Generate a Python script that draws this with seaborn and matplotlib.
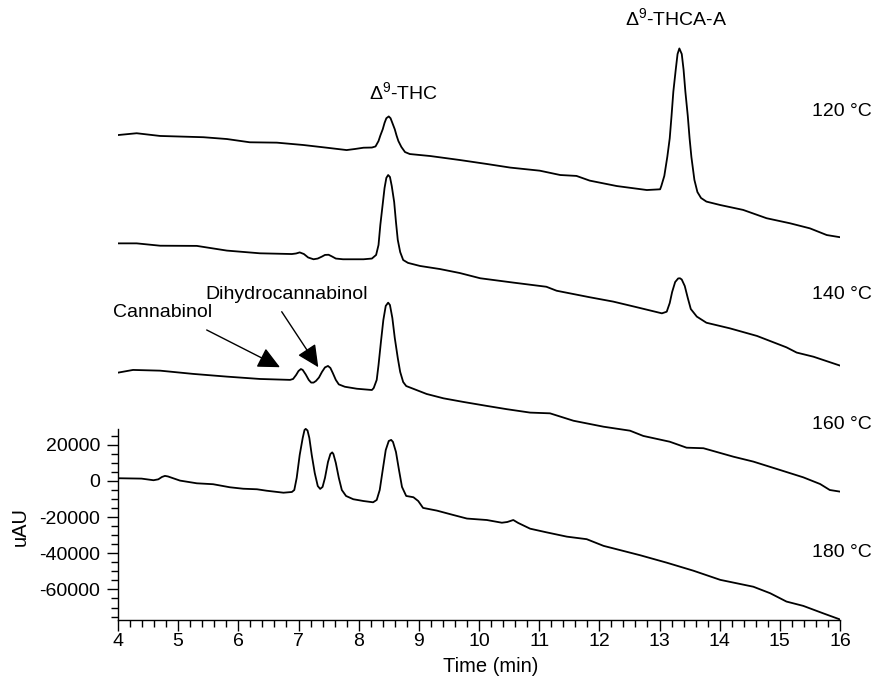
import numpy as np
import pandas as pd
import matplotlib
matplotlib.use("Agg")
import matplotlib.pyplot as plt
import seaborn as sns
from matplotlib.ticker import FixedLocator, StrMethodFormatter

# ---------------- data (uAU vs minutes) ----------------
t_180 = [4.00, 4.39, 4.59, 4.67, 4.73, 4.78, 4.83, 4.89, 5.03, 5.31, 5.58, 5.86, 6.08, 6.31, 6.47, 6.75,
         6.89, 6.93, 6.97, 7.02, 7.07, 7.10, 7.12, 7.15, 7.18, 7.22, 7.27, 7.32, 7.36, 7.40, 7.44, 7.49,
         7.53, 7.56, 7.58, 7.62, 7.67, 7.72, 7.79, 7.91, 8.08, 8.24, 8.30, 8.35, 8.40, 8.45, 8.50, 8.54,
         8.57, 8.62, 8.67, 8.72, 8.79, 8.91, 8.99, 9.07, 9.30, 9.57, 9.80, 10.13, 10.38, 10.47, 10.57,
         10.65, 10.85, 11.12, 11.46, 11.79, 12.07, 12.34, 12.68, 13.12, 13.56, 14.01, 14.56, 14.84,
         15.11, 15.39, 15.72, 16.00]
v_180 = [1500, 1300, 400, 900, 2200, 2800, 2500, 1800, 200, -1300, -1800, -3500, -4300, -4600, -5400,
         -6500, -6100, -5000, 1700, 14400, 23800, 28200, 28800, 27900, 23800, 14400, 4400, -2800, -4400,
         -3300, 1700, 10500, 14900, 15800, 14900, 10000, 1700, -5000, -8300, -10100, -11100, -11800,
         -10500, -5000, 6100, 17100, 22100, 22700, 21600, 16000, 6100, -3300, -8300, -9000, -11100,
         -14900, -16400, -18800, -20800, -21600, -23100, -22700, -21600, -23200, -26400, -28400, -30800,
         -32200, -35900, -38200, -41100, -45200, -49600, -54700, -58500, -62100, -66700, -69100, -73200,
         -76600]

t_160 = [4.00, 4.25, 4.70, 5.25, 5.81, 6.36, 6.86, 6.91, 6.96, 7.00, 7.04, 7.07, 7.12, 7.17, 7.21, 7.25,
         7.29, 7.34, 7.39, 7.44, 7.49, 7.53, 7.57, 7.62, 7.67, 7.77, 7.97, 8.22, 8.25, 8.30, 8.33, 8.37,
         8.41, 8.45, 8.49, 8.52, 8.56, 8.60, 8.65, 8.69, 8.74, 8.79, 8.96, 9.13, 9.41, 9.74, 10.13, 10.46,
         10.85, 11.18, 11.57, 12.07, 12.51, 12.73, 13.17, 13.45, 13.73, 14.23, 14.56, 15.00, 15.39,
         15.67, 15.83, 16.00]
v_160 = [-100, 1400, 1000, -800, -2300, -3600, -4100, -3600, -1400, 800, 1900, 1400, -1100, -4100, -5600,
         -5600, -4700, -2800, 300, 2800, 3600, 2500, -300, -4100, -6600, -7900, -9000, -9700, -8600,
         -4100, 4100, 16900, 29000, 36800, 38600, 37300, 30100, 19100, 8000, 300, -5300, -7500, -9700,
         -11900, -14300, -16300, -18500, -20300, -22200, -22600, -26700, -30000, -32200, -35100, -38300,
         -41600, -41900, -46600, -49300, -53900, -58000, -61700, -65000, -65900]

t_140 = [4.00, 4.31, 4.70, 5.31, 5.81, 6.36, 6.89, 6.96, 7.02, 7.09, 7.16, 7.25, 7.32, 7.39, 7.44, 7.50,
         7.56, 7.62, 7.74, 8.08, 8.22, 8.29, 8.33, 8.36, 8.40, 8.43, 8.46, 8.49, 8.52, 8.55, 8.59, 8.62,
         8.65, 8.69, 8.74, 8.82, 9.02, 9.35, 9.68, 10.02, 10.57, 11.12, 11.29, 11.84, 12.23, 12.62,
         13.04, 13.12, 13.17, 13.21, 13.26, 13.31, 13.34, 13.37, 13.42, 13.47, 13.52, 13.62, 13.78,
         14.17, 14.62, 15.11, 15.28, 15.56, 16.00]
v_140 = [1400, 1400, 100, 0, -2600, -4100, -4500, -4200, -3600, -4500, -6400, -7400, -7000, -5900, -5000,
         -4900, -5900, -7000, -7400, -7400, -7000, -5000, 500, 11600, 23200, 32000, 37600, 39200, 38100,
         33100, 24300, 13200, 3300, -3400, -7800, -9400, -11100, -12800, -15000, -17900, -20300, -22600,
         -24800, -28400, -30800, -33900, -37300, -36400, -31600, -25500, -20000, -18000, -17900, -18600,
         -22200, -28800, -34900, -39100, -42500, -45600, -49800, -56100, -59000, -61300, -66200]

t_120 = [4.00, 4.31, 4.70, 5.42, 5.81, 6.19, 6.64, 7.08, 7.47, 7.80, 7.94, 8.08, 8.22, 8.28, 8.33, 8.36,
         8.40, 8.43, 8.46, 8.50, 8.53, 8.56, 8.60, 8.63, 8.66, 8.71, 8.77, 8.85, 9.19, 9.68, 10.13, 10.52,
         11.01, 11.35, 11.62, 11.84, 12.29, 12.79, 13.01, 13.03, 13.08, 13.13, 13.17, 13.20, 13.23,
         13.27, 13.30, 13.33, 13.37, 13.40, 13.43, 13.47, 13.50, 13.53, 13.58, 13.63, 13.69, 13.78,
         14.01, 14.39, 14.78, 15.17, 15.50, 15.78, 16.00]
v_120 = [1300, 2300, 800, 100, -900, -2700, -2900, -4200, -5700, -7000, -6400, -5700, -5600, -5000, -2000,
         1000, 4500, 8000, 10600, 11600, 10600, 8000, 4500, 1000, -2000, -5300, -8100, -9200, -10300,
         -12500, -14700, -16700, -18400, -20800, -21300, -23900, -26900, -29100, -28700, -26900, -21300,
         -10700, -500, 11900, 25300, 37500, 46100, 49200, 46100, 37500, 25300, 11900, -500, -10800,
         -23500, -30200, -33500, -35500, -37400, -40100, -44700, -47500, -50300, -54000, -55200]

temperatures = ["120 °C", "140 °C", "160 °C", "180 °C"]
y_ticks = [-60000, -40000, -20000, 0, 20000]
x_ticks = list(range(4, 17))

# stacking offsets (layout)
offsets = [190000, 130000, 60000, 0]

traces = [(t_120, v_120), (t_140, v_140), (t_160, v_160), (t_180, v_180)]
frames = []
for (tt, vv), name, off in zip(traces, temperatures, offsets):
    frames.append(pd.DataFrame({"time": tt, "signal": np.asarray(vv) + off, "trace": name}))
df = pd.concat(frames, ignore_index=True)

# ---------------- figure ----------------
sns.set_theme(style="ticks")
plt.rcParams['font.family'] = ['Liberation Sans', 'DejaVu Sans']
plt.rcParams['mathtext.fontset'] = 'custom'
plt.rcParams['mathtext.rm'] = 'Liberation Sans'
plt.rcParams['axes.unicode_minus'] = False
for key in ('text.color', 'axes.labelcolor', 'xtick.color', 'ytick.color', 'axes.edgecolor'):
    plt.rcParams[key] = 'black'

fig = plt.figure(figsize=(8.76, 6.83), dpi=100)
ax = fig.add_axes([118 / 876, 63 / 683, 722 / 876, 590 / 683])

for name in temperatures:
    sub = df[df["trace"] == name]
    sns.lineplot(data=sub, x="time", y="signal", ax=ax, color="black", lw=1.3,
                 sort=False, estimator=None, legend=False)

ax.set_xlim(4, 16)
ax.set_ylim(-76900, 249400)

sns.despine(ax=ax, top=True, right=True)
ax.spines['left'].set_bounds(-76900, 28500)
for s in ('left', 'bottom'):
    ax.spines[s].set_linewidth(1.0)
    ax.spines[s].set_color('black')

ax.xaxis.set_major_locator(FixedLocator(x_ticks))
ax.xaxis.set_minor_locator(FixedLocator(np.arange(4, 16.01, 0.2)))
ax.yaxis.set_major_locator(FixedLocator(y_ticks))
ax.yaxis.set_minor_locator(FixedLocator(np.arange(-75000, 28000, 5000)))
ax.yaxis.set_major_formatter(StrMethodFormatter('{x:.0f}'))

ax.tick_params(axis='x', which='major', length=8, width=1, direction='out', labelsize=14, pad=1,
               color='black', labelcolor='black')
ax.tick_params(axis='x', which='minor', length=5, width=1, direction='out', color='black')
ax.tick_params(axis='y', which='major', length=8, width=1, direction='out', labelsize=14, pad=5,
               color='black', labelcolor='black')
ax.tick_params(axis='y', which='minor', length=5, width=1, direction='out', color='black')

ax.set_xlabel("Time (min)", fontsize=14.5, color='black')
ax.set_ylabel("uAU", fontsize=14.5, color='black')
ax.xaxis.set_label_coords(0.516, -0.062)
ax.yaxis.set_label_coords(-0.122, 0.159)

# temperature labels
temp_pos = [(15.53, 204100), (15.53, 102900), (15.53, 31000), (15.53, -39600)]
for lab, (x, y) in zip(temperatures, temp_pos):
    ax.text(x, y, lab, ha='left', va='center', fontsize=14, color='black', clip_on=False)

# peak labels
ax.text(8.74, 215100, r'$\mathregular{\Delta^{9}}$-THC', ha='center', va='center', fontsize=14,
        color='black')
ax.text(13.28, 256000, r'$\mathregular{\Delta^{9}}$-THCA-A', ha='center', va='center', fontsize=14,
        color='black', clip_on=False)

ax.text(3.92, 92900, "Cannabinol", ha='left', va='center', fontsize=14, color='black')
ax.text(5.446, 102900, "Dihydrocannabinol", ha='left', va='center', fontsize=14, color='black')

arrow_kw = dict(arrowstyle='-|>,head_length=0.75,head_width=0.36', mutation_scale=18,
                color='black', lw=1.0, shrinkA=0, shrinkB=0)
ax.annotate("", xy=(6.692, 62900), xytext=(5.474, 83500), arrowprops=arrow_kw)
ax.annotate("", xy=(7.329, 62900), xytext=(6.721, 93600), arrowprops=arrow_kw)

fig.savefig("out.png", dpi=100)
